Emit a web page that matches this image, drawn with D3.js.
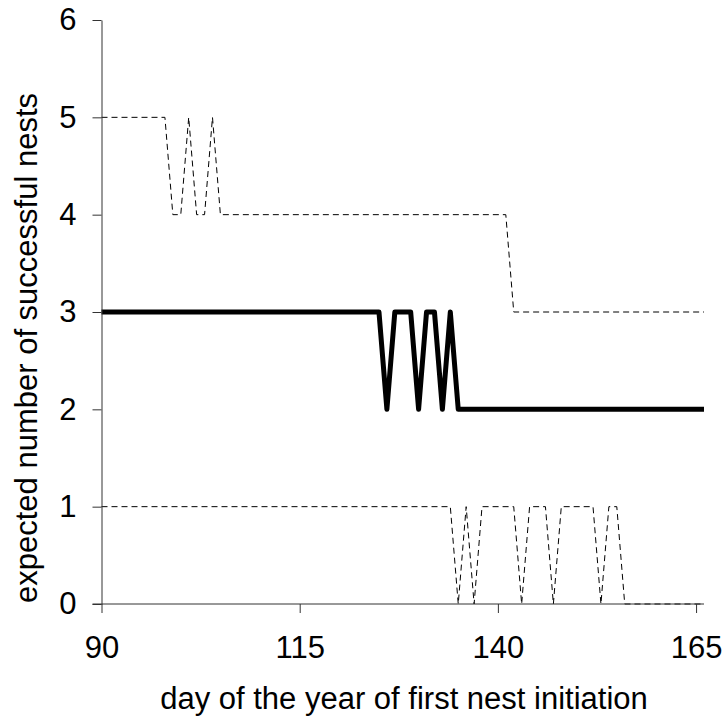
<!DOCTYPE html>
<html>
<head>
<meta charset="utf-8">
<script src="https://cdn.jsdelivr.net/npm/d3@7"></script>
<style>
  body { margin: 0; background: #fff; }
  text { font-family: "Liberation Sans", Arial, sans-serif; }
</style>
</head>
<body>
<div id="chart"></div>
<script>
// breakpoints (day, value)
var upperDays = [90, 98, 99, 100, 101, 102, 103, 104, 105, 141, 142, 166]
var upperVals = [5, 5, 4, 4, 5, 4, 4, 5, 4, 4, 3, 3]

var meanDays = [90, 125, 126, 127, 129, 130, 131, 132, 133, 134, 135, 166]
var meanVals = [3, 3, 2, 3, 3, 2, 3, 3, 2, 3, 2, 2]

var lowerDays = [90, 134, 135, 136, 137, 138, 142, 143, 144, 146, 147, 148, 152, 153, 154, 155, 156, 166]
var lowerVals = [1, 1, 0, 1, 0, 1, 1, 0, 1, 1, 0, 1, 1, 0, 1, 1, 0, 0]

var xTicks = [90, 115, 140, 165]
var yTicks = [0, 1, 2, 3, 4, 5, 6]

var width = 726, height = 721
var margin = {top: 20, right: 22, bottom: 117, left: 101.5}

var svg = d3.select("#chart").append("svg")
    .attr("width", width)
    .attr("height", height)

var xScale = d3.scaleLinear()
    .domain([90, 166])
    .range([margin.left, width - margin.right])

var yScale = d3.scaleLinear()
    .domain([0, 6])
    .range([height - margin.bottom, margin.top])

var fontSize = 31
var axisColor = "#333"

var line = d3.line()
    .x(function(d) { return xScale(d[0]) })
    .y(function(d) { return yScale(d[1]) })

var zipUp = function(days, vals) {
    return days.map(function(d, i) { return [d, vals[i]] })
}

var series = [
    {data: zipUp(upperDays, upperVals), width: 1, dash: "6,4"},
    {data: zipUp(lowerDays, lowerVals), width: 1, dash: "6,4"},
    {data: zipUp(meanDays, meanVals), width: 5, dash: null}
]

// lines first, axes drawn over them
series.forEach(function(s) {
    svg.append("path")
        .datum(s.data)
        .attr("d", line)
        .attr("fill", "none")
        .attr("stroke", "#000")
        .attr("stroke-width", s.width)
        .attr("stroke-linejoin", "round")
        .attr("stroke-dasharray", s.dash)
})

// x axis
var xAxis = svg.append("g")
    .attr("transform", "translate(0," + yScale(0) + ")")
    .call(d3.axisBottom(xScale).tickValues(xTicks).tickSize(9).tickSizeOuter(0).tickPadding(23))
xAxis.select(".domain").remove()
xAxis.append("line")
    .attr("x1", margin.left - 9).attr("x2", xScale(166))
    .attr("stroke", axisColor)
xAxis.selectAll(".tick line").attr("stroke", axisColor)
xAxis.selectAll("text")
    .attr("fill", "#000")
    .style("font-size", fontSize + "px")
    .style("font-family", "Liberation Sans, Arial, sans-serif")

// y axis
var yAxis = svg.append("g")
    .attr("transform", "translate(" + margin.left + ",0)")
    .call(d3.axisLeft(yScale).tickValues(yTicks).tickFormat(d3.format("d"))
        .tickSize(9).tickSizeOuter(0).tickPadding(16))
yAxis.select(".domain").attr("stroke", axisColor)
yAxis.selectAll(".tick line").attr("stroke", axisColor)
yAxis.selectAll("text")
    .attr("fill", "#000")
    .style("font-size", fontSize + "px")
    .style("font-family", "Liberation Sans, Arial, sans-serif")

// axis titles
svg.append("text")
    .attr("x", 404)
    .attr("y", 709)
    .attr("text-anchor", "middle")
    .style("font-size", fontSize + "px")
    .text("day of the year of first nest initiation")

svg.append("text")
    .attr("transform", "translate(37,348) rotate(-90)")
    .attr("text-anchor", "middle")
    .style("font-size", fontSize + "px")
    .text("expected number of successful nests")
</script>
</body>
</html>
